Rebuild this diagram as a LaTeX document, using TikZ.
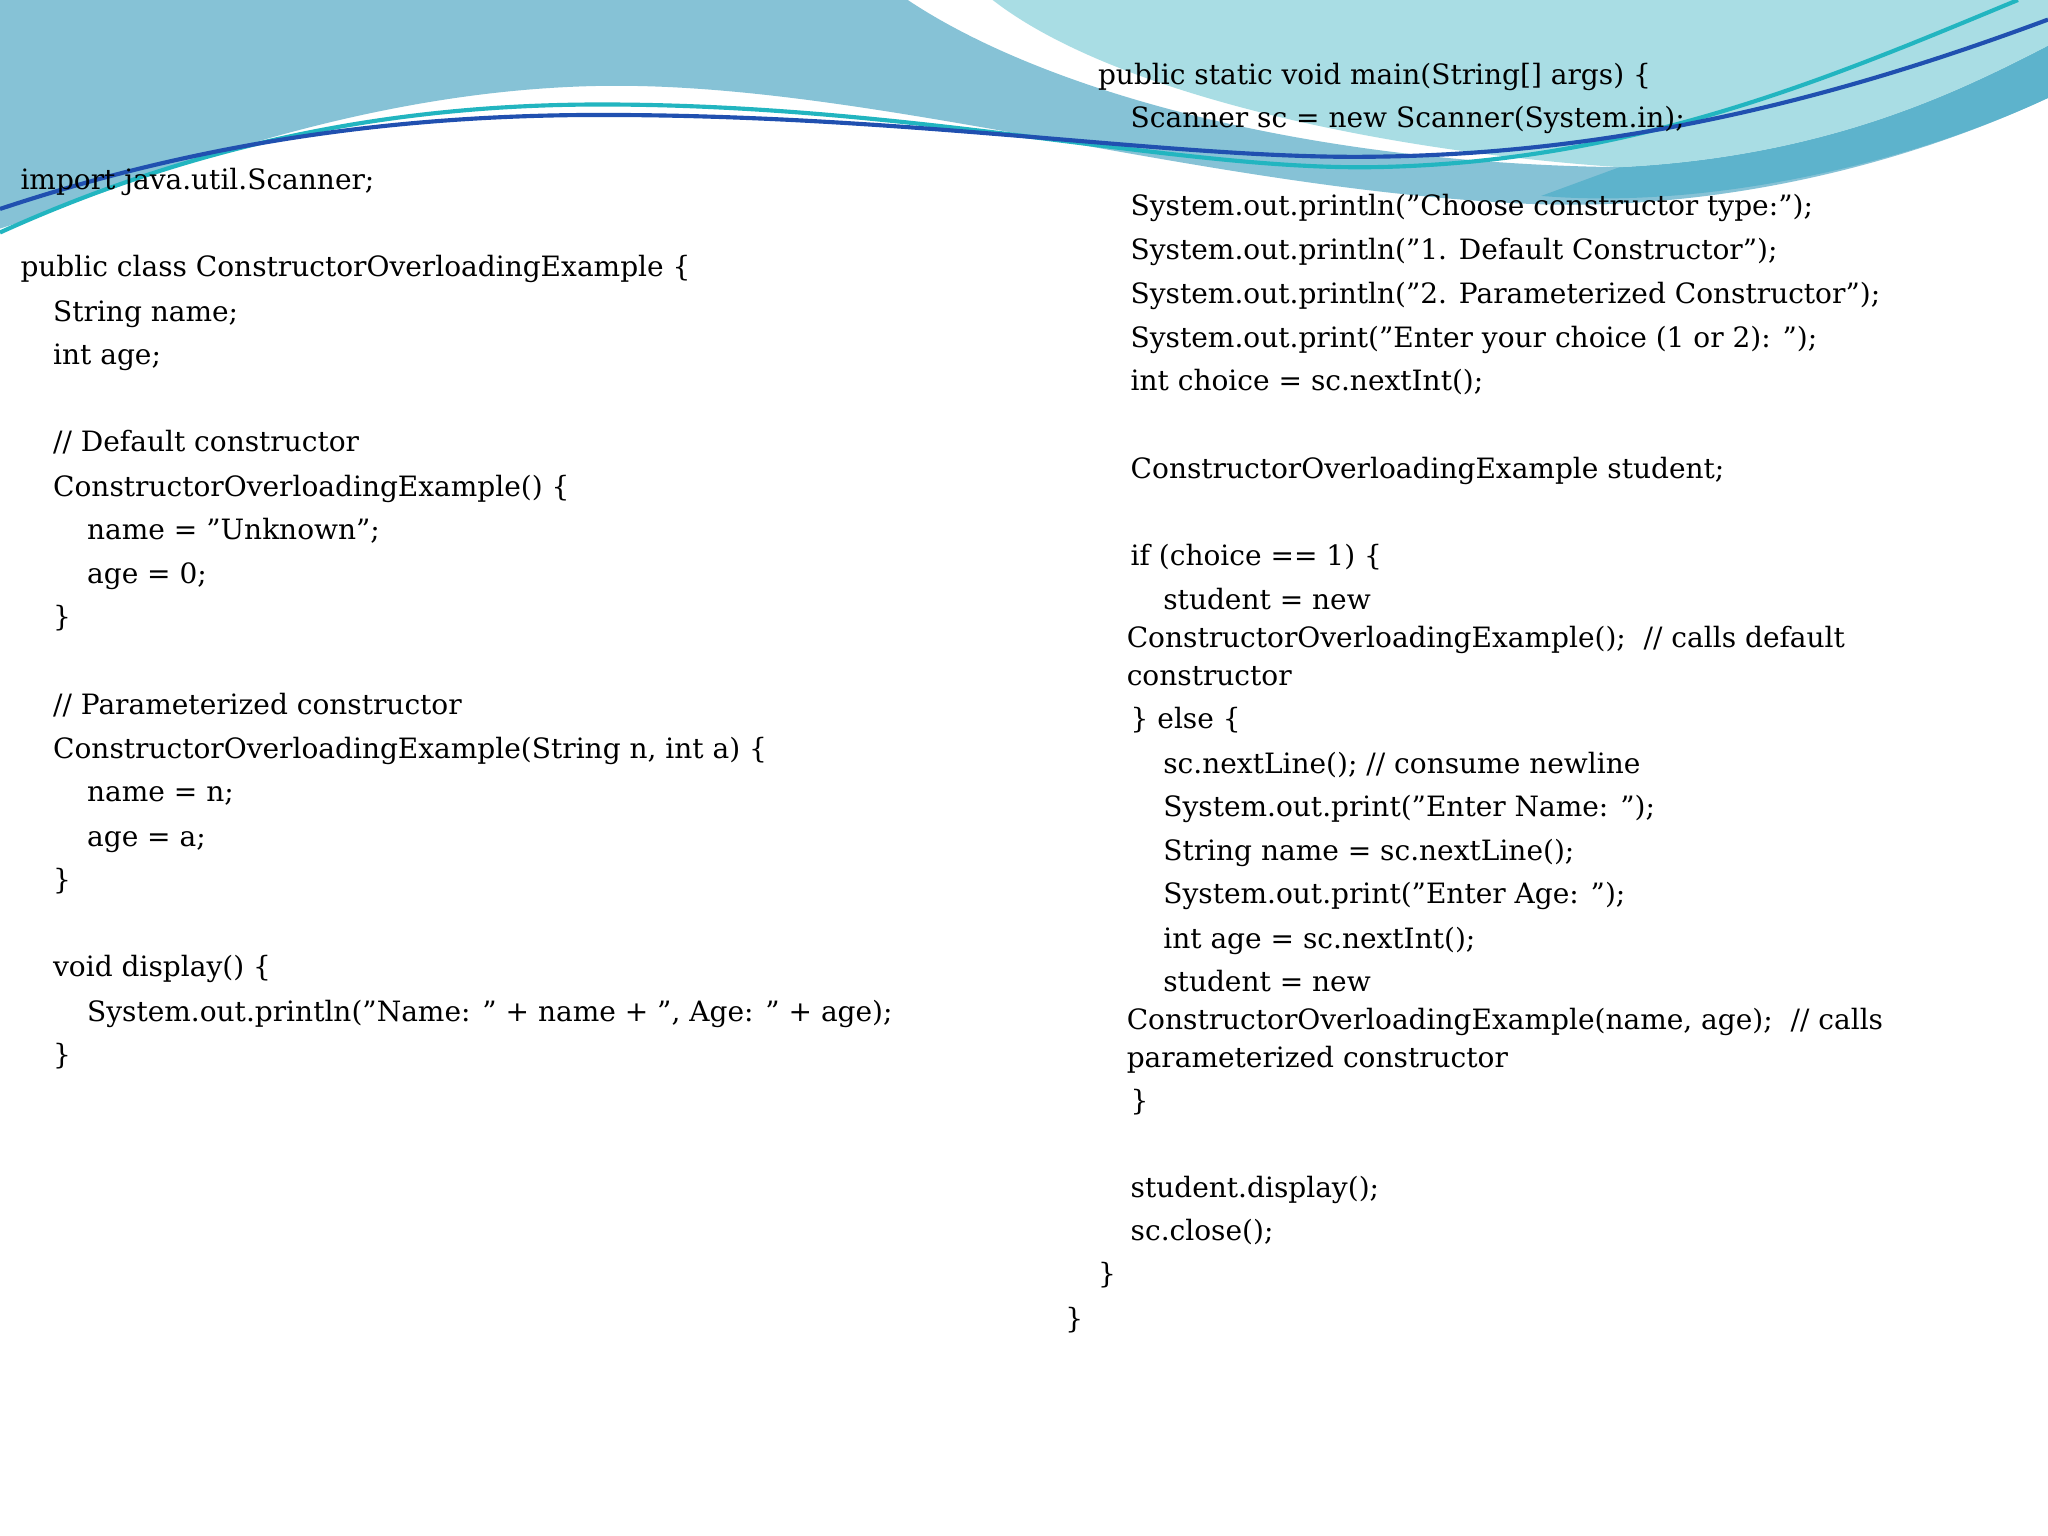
\documentclass[tikz,border=0pt]{standalone}
\usepackage{fontspec}
\setmainfont{DejaVu Serif}
\begin{document}
\begin{tikzpicture}[x=0.01cm,y=-0.01cm,
  code/.style={anchor=base west,inner sep=0pt,font=\fontsize{6.1pt}{7pt}\selectfont}]
\useasboundingbox (0,0) rectangle (1568,1176);
\fill[white] (0,0) rectangle (1568,1176);
\definecolor{wA}{HTML}{86C2D6}
\definecolor{wB}{HTML}{A9DDE4}
\definecolor{wC}{HTML}{5DB3CC}
\fill[wA] (0,0) -- (695,0) .. controls (800,70) and (1000,125) .. (1240,128)
  .. controls (1400,120) and (1500,70) .. (1568,35) -- (1568,75)
  .. controls (1450,130) and (1300,165) .. (1150,155)
  .. controls (900,140) and (650,60) .. (450,66)
  .. controls (250,72) and (80,150) .. (0,175) -- cycle;
\fill[wC] (1240,128) .. controls (1400,120) and (1500,70) .. (1568,35) -- (1568,75)
  .. controls (1450,130) and (1300,160) .. (1180,150) -- cycle;
\fill[wB] (760,0) -- (1568,0) -- (1568,35) .. controls (1500,70) and (1400,120) .. (1240,128)
  .. controls (1050,115) and (850,70) .. (760,0) -- cycle;
\draw[color={rgb,255:red,34;green,181;blue,192},line width=0.9pt]
  (0,178) .. controls (150,110) and (300,80) .. (460,80)
  .. controls (700,80) and (900,130) .. (1050,128)
  .. controls (1250,125) and (1400,60) .. (1545,0);
\draw[color={rgb,255:red,32;green,80;blue,176},line width=0.9pt]
  (0,160) .. controls (150,110) and (300,88) .. (460,88)
  .. controls (700,88) and (900,122) .. (1050,120)
  .. controls (1250,118) and (1420,70) .. (1568,15);
\foreach \t/\x/\y [count=\i] in {
 {import java.util.Scanner;}/15/145,
 {public class ConstructorOverloadingExample \{}/15/212,
 {String name;}/40/246,
 {int age;}/40/279,
 {// Default constructor}/40/346,
 {ConstructorOverloadingExample() \{}/40/380,
 {name = "Unknown";}/66/413,
 {age = 0;}/66/447,
 {\}}/40/480,
 {// Parameterized constructor}/40/547,
 {ConstructorOverloadingExample(String n, int a) \{}/40/581,
 {name = n;}/66/614,
 {age = a;}/66/648,
 {\}}/40/681,
 {void display() \{}/40/748,
 {System.out.println("Name: " + name + ", Age: " + age);}/66/782,
 {\}}/40/815}
 \node[code] (l\i) at (\x,\y) {\t};
\foreach \t/\x/\y [count=\i] in {
 {public static void main(String[] args) \{}/840/65,
 {Scanner sc = new Scanner(System.in);}/865/98,
 {System.out.println("Choose constructor type:");}/865/165,
 {System.out.println("1. Default Constructor");}/865/199,
 {System.out.println("2. Parameterized Constructor");}/865/232,
 {System.out.print("Enter your choice (1 or 2): ");}/865/266,
 {int choice = sc.nextInt();}/865/299,
 {ConstructorOverloadingExample student;}/865/366,
 {if (choice == 1) \{}/865/433,
 {student = new}/890/467,
 {ConstructorOverloadingExample();\ \ // calls default}/862/496,
 {constructor}/862/525,
 {\} else \{}/865/558,
 {sc.nextLine(); // consume newline}/890/592,
 {System.out.print("Enter Name: ");}/890/625,
 {String name = sc.nextLine();}/890/659,
 {System.out.print("Enter Age: ");}/890/692,
 {int age = sc.nextInt();}/890/726,
 {student = new}/890/759,
 {ConstructorOverloadingExample(name, age);\ \ // calls}/862/788,
 {parameterized constructor}/862/817,
 {\}}/865/850,
 {student.display();}/865/917,
 {sc.close();}/865/950,
 {\}}/840/983,
 {\}}/815/1017}
 \node[code] (r\i) at (\x,\y) {\t};
\end{tikzpicture}
\end{document}
